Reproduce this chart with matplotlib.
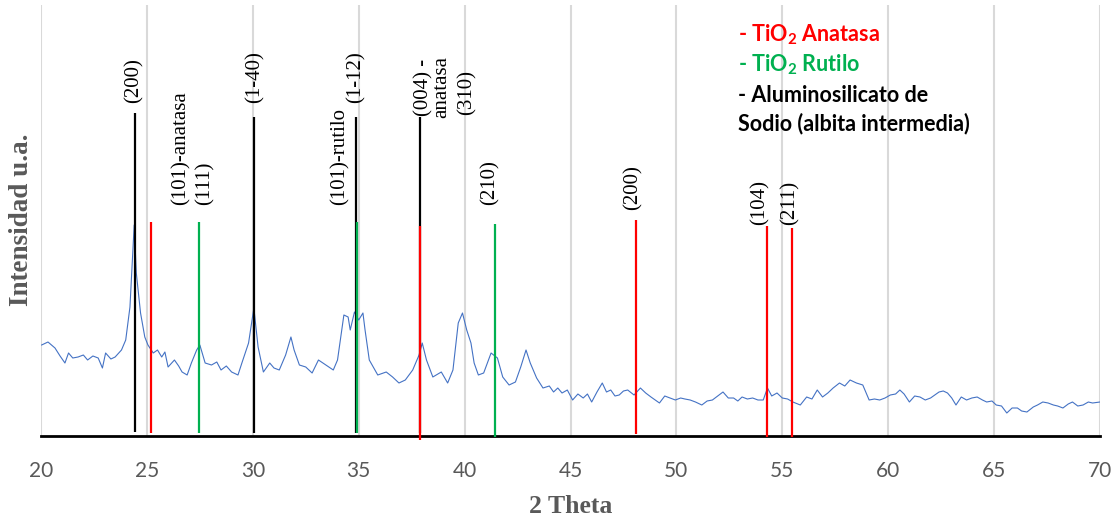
import matplotlib
matplotlib.use("Agg")
import matplotlib.pyplot as plt

# difractograma (intensidad en u.a.)
two_theta = [20.03, 20.33, 20.66, 20.9, 21.13, 21.3, 21.5, 21.75, 22.0, 22.2,
             22.45, 22.7, 22.9, 23.05, 23.3, 23.5, 23.8, 24.0, 24.2, 24.4,
             24.5, 24.7, 24.9, 25.05, 25.3, 25.5, 25.7, 25.85, 26.0, 26.3,
             26.5, 26.66, 26.9, 27.1, 27.35, 27.5, 27.75, 28.05, 28.3, 28.5,
             28.75, 29.0, 29.3, 29.5, 29.8, 30.05, 30.25, 30.5, 30.8, 31.0,
             31.25, 31.55, 31.8, 31.95, 32.2, 32.5, 32.8, 33.1, 33.45, 33.8,
             34.0, 34.3, 34.5, 34.6, 34.8, 35.0, 35.2, 35.3, 35.5, 35.9,
             36.3, 36.6, 36.9, 37.2, 37.55, 37.85, 38.0, 38.2, 38.5, 38.9,
             39.2, 39.45, 39.7, 39.9, 40.1, 40.3, 40.45, 40.65, 40.9, 41.25,
             41.55, 41.8, 42.1, 42.4, 42.65, 42.9, 43.1, 43.4, 43.7, 44.0,
             44.2, 44.4, 44.6, 44.85, 45.1, 45.35, 45.6, 45.8, 46.0, 46.25,
             46.5, 46.7, 46.9, 47.1, 47.3, 47.5, 47.7, 48.0, 48.3, 48.55,
             48.8, 49.0, 49.2, 49.45, 49.7, 49.95, 50.2, 50.4, 50.65, 50.9,
             51.2, 51.45, 51.7, 51.95, 52.2, 52.45, 52.7, 52.9, 53.1, 53.35,
             53.6, 53.85, 54.1, 54.3, 54.5, 54.75, 55.0, 55.25, 55.5, 55.85,
             56.15, 56.4, 56.65, 56.9, 57.15, 57.4, 57.7, 57.95, 58.2, 58.5,
             58.8, 59.1, 59.35, 59.6, 59.85, 60.1, 60.35, 60.55, 60.75, 61.0,
             61.25, 61.5, 61.75, 62.0, 62.2, 62.4, 62.6, 62.8, 63.0, 63.2,
             63.45, 63.7, 63.95, 64.2, 64.45, 64.65, 64.9, 65.1, 65.35, 65.6,
             65.85, 66.1, 66.3, 66.55, 66.85, 67.05, 67.3, 67.55, 67.8, 68.0,
             68.25, 68.5, 68.7, 68.95, 69.2, 69.45, 69.65, 70.0]
intensity = [91, 94, 88, 80, 73, 83, 78, 79, 81, 76,
             80, 78, 68, 83, 77, 79, 86, 96, 129, 211,
             163, 123, 99, 91, 83, 86, 79, 84, 69, 76,
             70, 64, 61, 73, 86, 91, 73, 71, 74, 66,
             70, 64, 61, 74, 93, 128, 89, 64, 73, 68,
             66, 81, 99, 86, 71, 69, 63, 76, 71, 66,
             76, 121, 119, 106, 124, 116, 123, 106, 76, 61,
             64, 59, 53, 56, 66, 81, 93, 76, 59, 64,
             53, 66, 113, 123, 106, 93, 73, 61, 63, 83,
             78, 59, 51, 54, 69, 86, 73, 58, 48, 50,
             44, 48, 43, 46, 36, 42, 38, 42, 34, 44,
             53, 44, 46, 40, 41, 45, 46, 41, 48, 43,
             39, 36, 33, 40, 38, 36, 38, 37, 36, 34,
             31, 35, 36, 40, 44, 38, 38, 35, 39, 37,
             38, 36, 36, 48, 40, 43, 38, 37, 34, 31,
             39, 37, 46, 39, 43, 48, 53, 50, 56, 53,
             51, 36, 37, 36, 38, 41, 42, 46, 42, 34,
             40, 39, 36, 38, 41, 44, 45, 43, 38, 31,
             39, 36, 38, 39, 36, 34, 35, 31, 30, 23,
             28, 28, 25, 24, 29, 31, 34, 33, 31, 30,
             28, 32, 34, 30, 31, 34, 33, 34]

# picos de referencia: posicion, inicio y fin de la linea
albita_pos = [24.45, 30.05, 34.85, 37.9]
albita_top = [323, 319, 319, 319]
albita_bot = [4, 3, 3, 3]
anatasa_pos = [25.2, 37.9, 48.1, 54.3, 55.45]
anatasa_top = [214, 210, 216, 210, 208]
anatasa_bot = [3, -4, 2, -1, -1]
rutilo_pos = [27.45, 34.9, 41.45]
rutilo_top = [214, 214, 212]
rutilo_bot = [3, 3, -1]

# etiquetas (texto, posicion x, base y)
labels = ["(200)", "(101)-anatasa", "(111)", "(1-40)", "(101)-rutilo", "(1-12)",
          "(004) -\nanatasa", "(310)", "(210)", "(200)", "(104)", "(211)"]
label_x = [24.4, 26.6, 27.75, 30.1, 34.1, 34.85, 38.5, 40.1, 41.2, 47.95, 53.95, 55.35]
label_y = [333, 231, 231, 333, 231, 333, 318, 321, 231, 226, 211, 211]

plt.rcParams['mathtext.fontset'] = 'custom'
plt.rcParams['mathtext.rm'] = 'Lato'
plt.rcParams['mathtext.bf'] = 'Lato:bold'

fig = plt.figure(figsize=(11.19, 5.22), dpi=100)
ax = fig.add_axes([41 / 1119, 1 - 436 / 522, 1059 / 1119, 431 / 522])

ax.set_xlim(20, 70)
ax.set_ylim(0, 431)
ax.set_xticks(range(20, 71, 5))
ax.grid(axis='x', color='#d9d9d9', linewidth=1.5)
ax.set_axisbelow(True)
ax.set_yticks([])
for s in ['top', 'right', 'left']:
    ax.spines[s].set_visible(False)
ax.spines['bottom'].set_linewidth(2)
ax.spines['bottom'].set_color('black')
ax.spines['bottom'].set_zorder(5)
ax.tick_params(axis='x', length=0, pad=18, labelsize=15, labelcolor='#595959')
for t in ax.get_xticklabels():
    t.set_fontfamily('Lato')

ax.plot(two_theta, intensity, color='#4472c4', linewidth=0.8, zorder=2)

ax.vlines(albita_pos, albita_bot, albita_top, color='black', linewidth=1.6, zorder=3)
ax.vlines(anatasa_pos, anatasa_bot, anatasa_top, color='#ff0000', linewidth=1.6,
          zorder=6, clip_on=False)
ax.vlines(rutilo_pos, rutilo_bot, rutilo_top, color='#00b050', linewidth=1.6,
          zorder=6, clip_on=False)

for txt, x, y in zip(labels, label_x, label_y):
    ax.text(x, y, txt, rotation=90, ha='center', va='bottom',
            family='Liberation Serif', fontsize=15, linespacing=0.95)

leg_x = 52.9
ax.text(leg_x, 401, r'- TiO$_\mathbf{2}$ Anatasa', color='#ff0000', family='Lato',
        fontweight='bold', fontsize=15.5, va='center')
ax.text(leg_x, 371, r'- TiO$_\mathbf{2}$ Rutilo', color='#00b050', family='Lato',
        fontweight='bold', fontsize=15.5, va='center')
ax.text(leg_x, 341, '- Aluminosilicato de', color='black', family='Lato',
        fontweight='bold', fontsize=15.5, va='center')
ax.text(leg_x, 312, 'Sodio (albita intermedia)', color='black', family='Lato',
        fontweight='bold', fontsize=15.5, va='center')

ax.set_xlabel('2 Theta', family='Liberation Serif', fontweight='bold', fontsize=18.5,
              color='#595959', labelpad=10)
fig.text(22 / 1119, 1 - 220 / 522, 'Intensidad u.a.', rotation=90, ha='center', va='center',
         family='Liberation Serif', fontweight='bold', fontsize=19.5, color='#595959')

fig.savefig('out.png', dpi=100)
